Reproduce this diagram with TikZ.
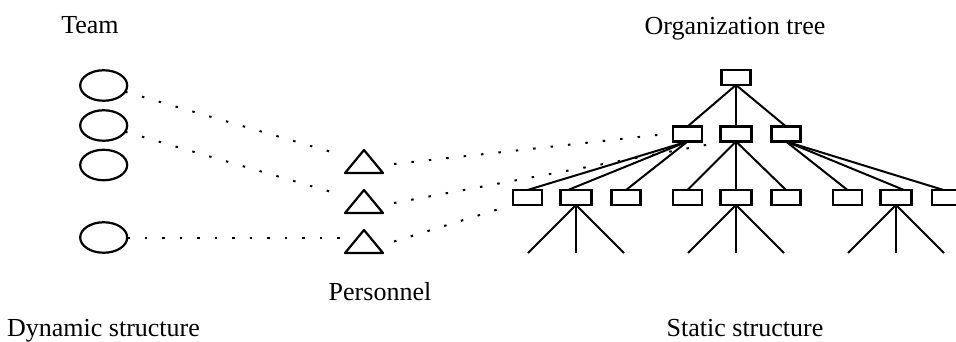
\documentclass[tikz,border=0pt]{standalone}
\usepackage{fontspec}
\setmainfont{Liberation Serif}
\usetikzlibrary{calc,shapes.geometric}
\begin{document}
\begin{tikzpicture}[x=1pt,y=-1pt,
  every node/.style={inner sep=0pt, outer sep=0pt},
  lbl/.style={anchor=base, font=\fontsize{26}{30}\selectfont},
  team/.style={draw, ellipse, line width=2.2pt, minimum width=47pt, minimum height=30.5pt},
  person/.style={minimum width=38pt, minimum height=23pt},
  unit/.style={draw, rectangle, line width=2.2pt, minimum width=29pt, minimum height=15pt},
  wideunit/.style={unit, minimum width=31pt},
  link/.style={line width=2pt},
  assign/.style={line width=2pt, dash pattern=on 2.5pt off 15pt}]
\useasboundingbox (0,0) rectangle (956,341);

% captions
\node[lbl] (tTeam) at (90,33) {Team};
\node[lbl] (tOrg) at (735,34) {Organization tree};
\node[lbl] (tPers) at (380,300) {Personnel};
\node[lbl] (tDyn) at (103.5,336.5) {Dynamic structure};
\node[lbl] (tStat) at (745,336.5) {Static structure};

% teams
\node[team] (e1) at (103.7,85.5) {};
\node[team] (e2) at (103.7,125.5) {};
\node[team] (e3) at (103.7,165) {};
\node[team] (e4) at (103.7,237.5) {};

% personnel
\node[person] (t1) at (364,161.5) {};
\node[person] (t2) at (364,201.5) {};
\node[person] (t3) at (364,241.5) {};
\foreach \t in {t1,t2,t3}
  \draw[line width=2.2pt, line join=round] (\t.south west) -- (\t.north) -- (\t.south east) -- cycle;

% organization tree
\node[unit] (r) at (736,77.5) {};
\node[unit] (m1) at (687.5,134) {};
\node[wideunit] (m2) at (736,134) {};
\node[unit] (m3) at (786,134) {};
\node[unit] (b1) at (527.5,197.5) {};
\node[wideunit] (b2) at (576,197.5) {};
\node[unit] (b3) at (626,197.5) {};
\node[unit] (b4) at (687.5,197.5) {};
\node[wideunit] (b5) at (736,197.5) {};
\node[unit] (b6) at (786,197.5) {};
\node[unit] (b7) at (847.5,197.5) {};
\node[wideunit] (b8) at (896,197.5) {};
\node[unit] (b9) at (946.5,197.5) {};

\foreach \m in {m1,m2,m3} \draw[link] (r.south) -- (\m.north);
\draw[link] (m1.south) -- (b1.north);
\draw[link] (m1.south) -- ([xshift=-8pt]b2.north);
\draw[link] (m1.south) -- (b3.north);
\foreach \b in {b4,b5,b6} \draw[link] (m2.south) -- (\b.north);
\draw[link] (m3.south) -- (b7.north);
\draw[link] (m3.south) -- ([xshift=8pt]b8.north);
\draw[link] (m3.south) -- ([xshift=-3pt]b9.north);
\foreach \b in {b2,b5,b8} {
  \draw[link] (\b.south) -- ++(-48,48);
  \draw[link] (\b.south) -- ++(0,48);
  \draw[link] (\b.south) -- ++(48,48);
}

% team membership
\draw[assign, shorten >=8pt] (e1) -- (t1);
\draw[assign, shorten >=4pt] (e2) -- (t2);
\draw[assign] (e4.east) -- (e4.east -| t3.west);

% position in the organization
\draw[assign] ([xshift=11pt,yshift=-2.5pt]t1.east) -- ([xshift=-7pt]m1.west);
\draw[assign] ([xshift=11pt,yshift=-1.5pt]t2.east) -- ([xshift=-7pt,yshift=-2pt]m2.south west);
\draw[assign] ([xshift=11pt]t3.east) -- ([xshift=-14pt,yshift=-4pt]b1.south west);
\end{tikzpicture}
\end{document}
